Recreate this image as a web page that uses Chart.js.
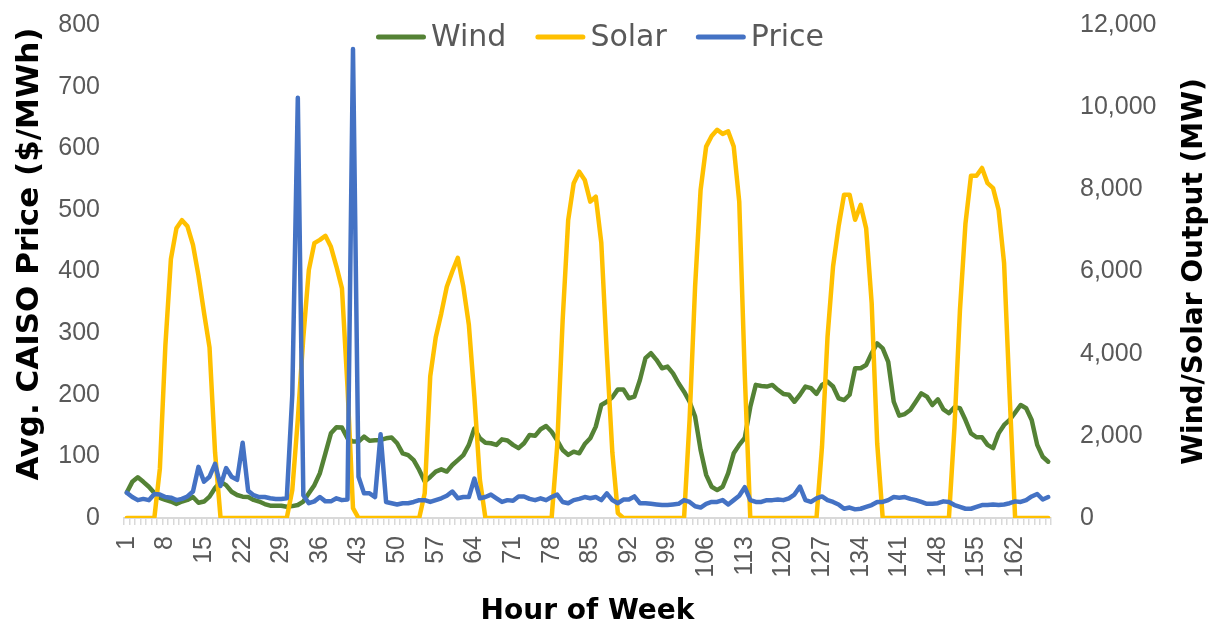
<!DOCTYPE html>
<html><head><meta charset="utf-8">
<script src="https://cdn.jsdelivr.net/npm/chart.js@4.4.1/dist/chart.umd.min.js"></script>
<style>html,body{margin:0;padding:0;background:#fff;}#wrap{width:1221px;height:629px;}</style>
</head><body><div id="wrap"><canvas id="c" width="1221" height="629"></canvas></div>
<script>
const hours = Array.from({length:168}, (_, i) => String(i + 1));
const tickLabels = ['1','8','15','22','29','36','43','50','57','64','71','78','85','92','99','106','113','120','127','134','141','148','155','162'];
const priceTicks = [0,100,200,300,400,500,600,700,800];
const outputTicks = [0,2000,4000,6000,8000,10000,12000];

const wind = [
620,880,990,880,760,610,490,440,400,340,
400,440,510,370,400,520,730,880,800,640,
560,520,510,440,400,340,300,300,300,275,
290,316,400,600,800,1090,1575,2060,2210,2200,
1940,1860,1860,1980,1880,1890,1900,1940,1960,1820,
1575,1530,1410,1170,885,1000,1130,1185,1130,1290,
1410,1530,1780,2180,1940,1830,1820,1780,1915,1885,
1780,1700,1820,2020,2000,2160,2240,2100,1890,1655,
1535,1615,1575,1800,1940,2225,2750,2830,2940,3130,
3130,2915,2955,3360,3890,4010,3850,3645,3685,3520,
3280,3075,2830,2470,1655,1050,760,680,760,1090,
1575,1780,1950,2700,3240,3215,3200,3240,3120,3020,
3000,2830,3000,3200,3160,3020,3240,3320,3200,2915,
2870,3000,3645,3645,3725,4010,4250,4130,3800,2830,
2490,2530,2630,2830,3035,2955,2750,2890,2645,2550,
2695,2670,2385,2060,1965,1965,1780,1700,2060,2265,
2385,2565,2750,2670,2385,1780,1490,1370
];
const solar = [
0,0,0,0,0,0,1200,4200,6300,7050,
7250,7100,6650,5900,5000,4150,1600,0,0,0,
0,0,0,0,0,0,0,0,0,0,
680,2400,4400,6040,6690,6770,6870,6600,6120,5590,
3200,240,0,0,0,0,0,0,0,0,
0,0,0,0,600,3450,4400,4980,5630,6000,
6330,5630,4700,2950,930,0,0,0,0,0,
0,0,0,0,0,0,0,0,1740,4820,
7250,8150,8430,8230,7700,7820,6700,4000,1600,120,
0,0,0,0,0,0,0,0,0,0,
0,0,2390,5630,7990,9040,9300,9450,9350,9410,
9040,7700,3500,0,0,0,0,0,0,0,
0,0,0,0,0,0,1740,4410,6120,7090,
7870,7870,7260,7620,7050,5230,1820,0,0,0,
0,0,0,0,0,0,0,0,0,0,
2200,5060,7170,8330,8330,8520,8150,8030,7500,6200,
3000,0,0,0,0,0,0,0
];
const price = [
41,34,29,31,29,39,38,34,33,29,
31,35,43,83,59,67,88,52,81,67,
62,122,44,37,34,34,32,31,31,32,
200,682,37,24,27,34,27,27,32,29,
30,761,67,40,40,34,136,26,24,22,
24,24,26,29,29,26,29,32,36,43,
32,34,34,64,32,34,38,32,26,29,
28,35,35,31,29,32,29,34,38,26,
24,29,31,34,32,34,29,40,29,24,
30,30,35,24,24,23,22,21,21,22,
23,29,26,19,17,23,26,26,29,22,
29,36,50,29,26,26,29,29,30,29,
32,38,51,29,26,32,35,29,26,22,
15,17,14,15,18,21,26,26,29,34,
33,34,31,29,26,23,23,24,27,26,
21,18,15,15,18,21,21,22,21,22,
24,27,26,29,35,39,30,34
];

const leftTitle = 'Avg. CAISO Price ($/MWh)';
const rightTitle = 'Wind/Solar Output (MW)';
const xTitle = 'Hour of Week';

const TICK_FONT = {family: '"Liberation Sans", Arial, sans-serif', size: 25};
const GREY = '#595959';

function drawText(ctx, text, x, y, font, color, rot) {
  ctx.save();
  ctx.font = font;
  ctx.fillStyle = color;
  ctx.textAlign = 'center';
  ctx.textBaseline = 'middle';
  ctx.translate(x, y);
  if (rot) ctx.rotate(rot);
  ctx.fillText(text, 0, 0);
  ctx.restore();
}

const overlay = {
  id: 'overlay',
  afterDraw(chart) {
    const ctx = chart.ctx;
    const ca = chart.chartArea;
    drawText(ctx, leftTitle, 30, 254, 'bold 31px "DejaVu Sans", sans-serif', '#000', -Math.PI / 2);
    drawText(ctx, rightTitle, 1195, (ca.top + ca.bottom) / 2, 'bold 28px "DejaVu Sans", sans-serif', '#000', -Math.PI / 2);
    drawText(ctx, xTitle, (ca.left + ca.right) / 2, 612, 'bold 28px "DejaVu Sans", sans-serif', '#000', 0);
    ctx.save();
    ctx.font = '30px "DejaVu Sans", sans-serif';
    ctx.textBaseline = 'middle';
    ctx.textAlign = 'left';
    const lineW = 50, gapT = 5, gapI = 29;
    const ds = chart.data.datasets;
    const widths = ds.map(d => lineW + gapT + ctx.measureText(d.label).width);
    const total = widths.reduce((a, b) => a + b, 0) + gapI * (ds.length - 1);
    let x = 600 - total / 2;
    const y = 37;
    ds.forEach((d, i) => {
      ctx.strokeStyle = d.borderColor;
      ctx.lineWidth = 5;
      ctx.lineCap = 'round';
      ctx.beginPath();
      ctx.moveTo(x + 2.5, y);
      ctx.lineTo(x + lineW - 2.5, y);
      ctx.stroke();
      ctx.fillStyle = GREY;
      ctx.fillText(d.label, x + lineW + gapT, y + 1);
      x += widths[i] + gapI;
    });
    ctx.restore();
  }
};

function fixVertical(width) {
  return function(s) { s.width = width; s.paddingTop = 0; s.paddingBottom = 0; };
}

new Chart(document.getElementById('c'), {
  type: 'line',
  data: {
    labels: hours,
    datasets: [
      {label: 'Wind', data: wind, yAxisID: 'y1', borderColor: '#548235', backgroundColor: '#548235', order: 2},
      {label: 'Solar', data: solar, yAxisID: 'y1', borderColor: '#FFC000', backgroundColor: '#FFC000', order: 1},
      {label: 'Price', data: price, yAxisID: 'y', borderColor: '#4472C4', backgroundColor: '#4472C4', order: 0}
    ]
  },
  options: {
    responsive: false,
    animation: false,
    devicePixelRatio: 1,
    layout: {padding: {top: 25, left: 0, right: 0, bottom: 0}},
    elements: {
      line: {borderWidth: 4.5, tension: 0, borderJoinStyle: 'round', borderCapStyle: 'round', fill: false},
      point: {radius: 0, hoverRadius: 0}
    },
    plugins: {legend: {display: false}, tooltip: {enabled: false}},
    scales: {
      x: {
        type: 'category',
        offset: true,
        grid: {display: true, drawOnChartArea: false, drawTicks: true, tickLength: 7, color: '#d9d9d9', lineWidth: 1.5, offset: true},
        border: {display: true, color: '#d9d9d9', width: 2},
        ticks: {
          autoSkip: false, maxRotation: 90, minRotation: 90, padding: 11,
          color: GREY, font: TICK_FONT,
          callback: function(v, i) { const l = hours[i]; return tickLabels.includes(l) ? l : ''; }
        },
        title: {display: false},
        afterFit(s) { s.height = 111; s.paddingLeft = 0; s.paddingRight = 0; }
      },
      y: {
        position: 'left', min: 0, max: 800,
        grid: {display: false, drawTicks: false},
        border: {display: false},
        ticks: {stepSize: 100, padding: 24, color: GREY, font: TICK_FONT,
          callback: v => priceTicks.includes(v) ? String(v) : ''},
        title: {display: false},
        afterFit: fixVertical(124)
      },
      y1: {
        position: 'right', min: 0, max: 12000,
        grid: {display: false, drawTicks: false},
        border: {display: false},
        ticks: {stepSize: 2000, padding: 29, color: GREY, font: TICK_FONT,
          callback: v => outputTicks.includes(v) ? v.toLocaleString('en-US') : ''},
        title: {display: false},
        afterFit: fixVertical(170)
      }
    }
  },
  plugins: [overlay]
});
</script>
</body></html>
